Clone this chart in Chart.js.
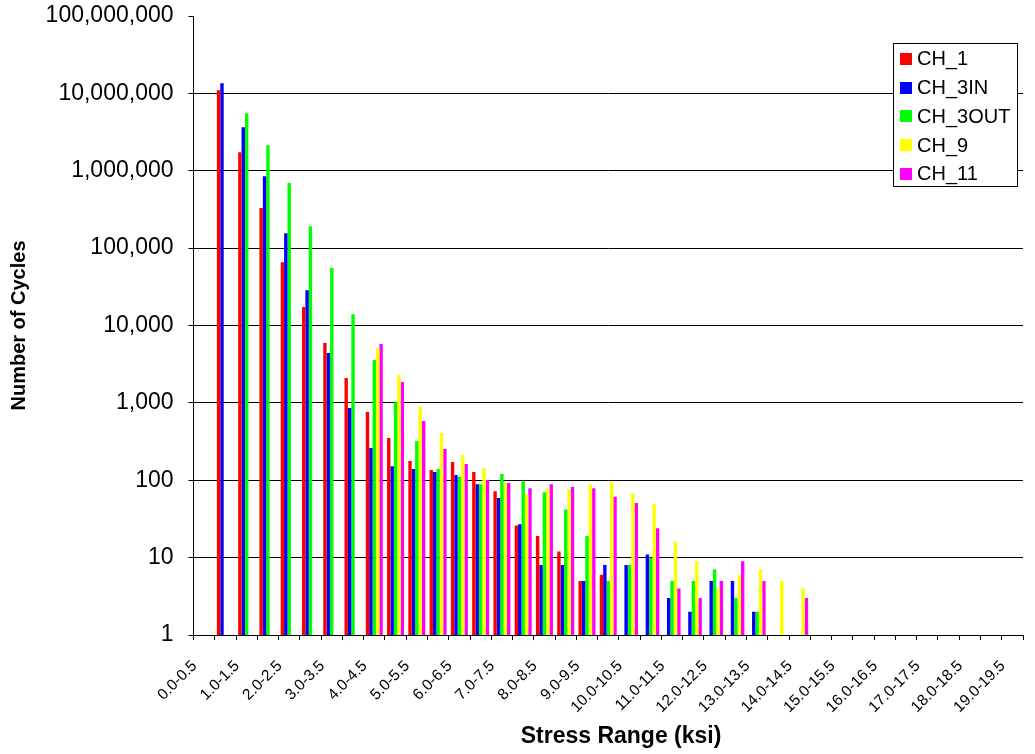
<!DOCTYPE html>
<html>
<head>
<meta charset="utf-8">
<script src="https://cdn.jsdelivr.net/npm/chart.js@4.4.1/dist/chart.umd.min.js"></script>
<style>
  html, body { margin: 0; padding: 0; background: #fff; }
  #wrap { width: 1035px; height: 754px; }
</style>
</head>
<body>
<div id="wrap"><canvas id="c" width="1035" height="754"></canvas></div>
<script>
// Stress-range bins (ksi)
const categories = [
  '0.0-0.5', '0.5-1.0', '1.0-1.5', '1.5-2.0', '2.0-2.5', '2.5-3.0', '3.0-3.5', '3.5-4.0',
  '4.0-4.5', '4.5-5.0', '5.0-5.5', '5.5-6.0', '6.0-6.5', '6.5-7.0', '7.0-7.5', '7.5-8.0',
  '8.0-8.5', '8.5-9.0', '9.0-9.5', '9.5-10.0', '10.0-10.5', '10.5-11.0', '11.0-11.5', '11.5-12.0',
  '12.0-12.5', '12.5-13.0', '13.0-13.5', '13.5-14.0', '14.0-14.5', '14.5-15.0', '15.0-15.5', '15.5-16.0',
  '16.0-16.5', '16.5-17.0', '17.0-17.5', '17.5-18.0', '18.0-18.5', '18.5-19.0', '19.0-19.5'
];

// Cycle counts per channel (null = no cycles in that bin)
const ch1 = [
  null, 11000000, 1740000, 329000, 65900, 17300, 5930, 2090,
  761, 351, 177, 136, 172, 128, 72, 26,
  19, 12, 5, 6, null, null, null, null,
  null, null, null, null, null, null, null, null,
  null, null, null, null, null, null, null
];
const ch3in = [
  null, 13500000, 3660000, 851000, 156000, 28600, 4400, 857,
  261, 152, 140, 128, 117, 89, 59, 27,
  8, 8, 5, 8, 8, 11, 3, 2,
  5, 5, 2, null, null, null, null, null,
  null, null, null, null, null, null, null
];
const ch3out = [
  null, null, 5550000, 2140000, 692000, 192000, 55200, 14000,
  3570, 1020, 321, 140, 110, 89, 120, 97,
  70, 42, 19, 5, 8, 10, 5, 5,
  7, 3, 2, null, null, null, null, null,
  null, null, null, null, null, null, null
];
const ch9 = [
  null, null, null, null, null, null, null, null,
  5100, 2290, 883, 407, 212, 144, 92, 66,
  79, 77, 89, 95, 68, 49, 16, 9,
  4, 6, 7, 5, 4, null, null, null,
  null, null, null, null, null, null, null
];
const ch11 = [
  null, null, null, null, null, null, null, null,
  5750, 1860, 582, 253, 162, 101, 92, 79,
  89, 82, 79, 61, 51, 24, 4, 3,
  5, 9, 5, null, 3, null, null, null,
  null, null, null, null, null, null, null
];

const seriesNames = ['CH_1', 'CH_3IN', 'CH_3OUT', 'CH_9', 'CH_11'];
const seriesColors = ['#FF0000', '#0000FF', '#00FF00', '#FFFF00', '#FF00FF'];
const yTickValues = [1, 10, 100, 1000, 10000, 100000, 1000000, 10000000, 100000000];

const FONT = "'Liberation Sans', Arial, sans-serif";

// Boxed legend drawn inside the plot, over the grid lines
const boxLegend = {
  id: 'boxLegend',
  afterDraw(chart) {
    const ctx = chart.ctx;
    const bx = 893.5, by = 43.5, bw = 124, bh = 143;
    ctx.save();
    ctx.fillStyle = '#fff';
    ctx.fillRect(bx, by, bw, bh);
    ctx.strokeStyle = '#000';
    ctx.lineWidth = 1;
    ctx.strokeRect(bx, by, bw, bh);
    ctx.font = '20px ' + FONT;
    ctx.textBaseline = 'middle';
    ctx.textAlign = 'left';
    chart.data.datasets.forEach((ds, i) => {
      const cy = 58.7 + i * 28.8;
      ctx.fillStyle = ds.backgroundColor;
      ctx.fillRect(900, Math.round(cy - 6), 12, 12);
      ctx.fillStyle = '#000';
      ctx.fillText(ds.label, 917, cy + 1);
    });
    ctx.restore();
  }
};

const datasetValues = [ch1, ch3in, ch3out, ch9, ch11];

new Chart(document.getElementById('c'), {
  type: 'bar',
  data: {
    labels: categories,
    datasets: datasetValues.map((vals, i) => ({
      label: seriesNames[i],
      data: vals,
      backgroundColor: seriesColors[i],
      borderWidth: 0,
      categoryPercentage: 0.8,
      barPercentage: 1.0
    }))
  },
  options: {
    responsive: false,
    animation: false,
    devicePixelRatio: 1,
    layout: { padding: { top: 16, right: 12, bottom: 0, left: 0 } },
    plugins: {
      legend: { display: false },
      tooltip: { enabled: false }
    },
    scales: {
      x: {
        grid: {
          display: true,
          drawOnChartArea: false,
          drawTicks: true,
          tickLength: 5,
          color: '#000',
          offset: true
        },
        border: { display: true, color: '#000', width: 1 },
        ticks: {
          autoSkip: false,
          maxRotation: 45,
          minRotation: 45,
          padding: 17,
          labelOffset: -9.5,
          color: '#000',
          font: { size: 15.5, family: FONT },
          callback: (v, i) => (i % 2 === 0 ? categories[i] : '')
        },
        title: {
          display: true,
          text: '    Stress Range (ksi)',
          color: '#000',
          font: { size: 23, weight: 'bold', family: FONT },
          padding: { top: 0, bottom: 4 }
        },
        afterFit: (s) => { s.height = 119; s.paddingRight = 0; }
      },
      y: {
        type: 'logarithmic',
        min: 1,
        max: 100000000,
        afterBuildTicks: (axis) => { axis.ticks = yTickValues.map(v => ({ value: v })); },
        grid: {
          color: (c) => (c.tick && c.tick.value === 100000000 ? 'rgba(0,0,0,0)' : '#000'),
          tickColor: '#000',
          tickLength: 5,
          drawTicks: true
        },
        border: { display: true, color: '#000', width: 1 },
        ticks: {
          padding: 15,
          color: '#000',
          font: { size: 23, family: FONT },
          callback: (v) => Number(v).toLocaleString('en-US')
        },
        title: {
          display: true,
          text: 'Number of Cycles',
          color: '#000',
          font: { size: 20, weight: 'bold', family: FONT },
          padding: { top: 7, bottom: 0 }
        },
        afterFit: (s) => { s.width = 193.5; s.paddingTop = 0; s.paddingBottom = 0; }
      }
    }
  },
  plugins: [boxLegend]
});
</script>
</body>
</html>
